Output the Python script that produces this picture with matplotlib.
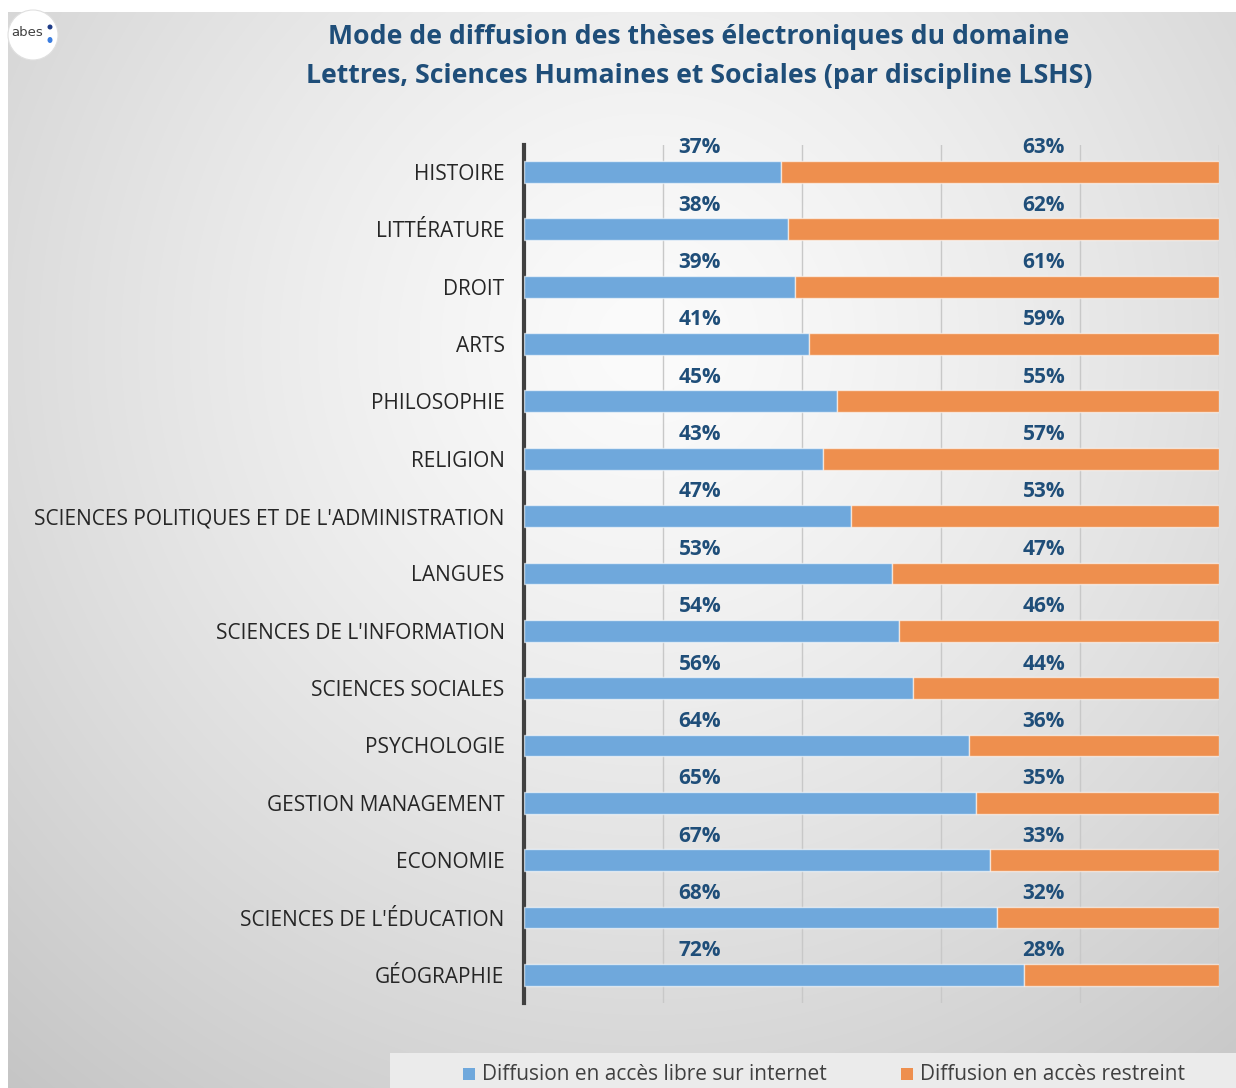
import numpy as np
import matplotlib
matplotlib.use("Agg")
import matplotlib.pyplot as plt
from matplotlib.patches import Circle, Rectangle, Ellipse

categories = ["HISTOIRE", "LITTÉRATURE", "DROIT", "ARTS", "PHILOSOPHIE", "RELIGION",
              "SCIENCES POLITIQUES ET DE L'ADMINISTRATION", "LANGUES",
              "SCIENCES DE L'INFORMATION", "SCIENCES SOCIALES", "PSYCHOLOGIE",
              "GESTION MANAGEMENT", "ECONOMIE", "SCIENCES DE L'ÉDUCATION", "GÉOGRAPHIE"]
libre = [37, 38, 39, 41, 45, 43, 47, 53, 54, 56, 64, 65, 67, 68, 72]
restreint = [63, 62, 61, 59, 55, 57, 53, 47, 46, 44, 36, 35, 33, 32, 28]
series_names = ["Diffusion en accès libre sur internet", "Diffusion en accès restreint"]
title_lines = ["Mode de diffusion des thèses électroniques du domaine",
               "Lettres, Sciences Humaines et Sociales (par discipline LSHS)"]

plt.rcParams['font.family'] = ['Open Sans', 'DejaVu Sans']

W, H = 1236, 1088
fig = plt.figure(figsize=(W / 100, H / 100), dpi=100)
fig.patch.set_facecolor("white")

# background radial gradient
bg = fig.add_axes([8 / W, 0, 1 - 8 / W, 1 - 12 / H])
yy, xx = np.mgrid[0:1076, 0:1228]
cx, cy = 640, 330
r = np.sqrt(((xx - cx) / 900.0) ** 2 + ((yy - cy) / 900.0) ** 2)
val = 0.985 - 0.19 * np.clip(r, 0, 1.2) ** 1.3
img = np.dstack([val, val, val])
bg.imshow(img, aspect="auto", extent=[0, 1, 0, 1], origin="upper")
bg.set_axis_off()

# legend band
bg.add_patch(Rectangle(((390 - 8) / 1228, 0), 1, (1088 - 1053) / 1076,
                       transform=bg.transAxes, facecolor="#ebebeb", edgecolor="none"))

ax = fig.add_axes([524 / W, 85 / H, 695 / W, (1003 - 145) / H])
ax.patch.set_alpha(0)
blue = "#6FA8DC"
orange = "#EE8F4E"
y = np.arange(len(categories))
lib = np.array(libre) / 100
res = np.array(restreint) / 100
ax.barh(y, lib, height=0.38, color=blue, edgecolor=(1, 1, 1, 0.6), linewidth=1, zorder=3)
ax.barh(y, res, left=lib, height=0.38, color=orange, edgecolor=(1, 1, 1, 0.6), linewidth=1, zorder=3)
for i in range(len(categories)):
    ax.text(0.253, i - 0.42, f"{libre[i]}%", ha="center", va="center", fontsize=15,
            fontweight="bold", color="#1F4E79", zorder=4)
    ax.text(0.748, i - 0.42, f"{restreint[i]}%", ha="center", va="center", fontsize=15,
            fontweight="bold", color="#1F4E79", zorder=4)

ax.set_xlim(0, 1)
ax.set_ylim(len(categories) - 1 + 0.49, -0.47)
ax.set_xticks(np.linspace(0, 1, 6))
ax.set_xticklabels([])
ax.grid(axis="x", color="#c8c8c8", linewidth=1, zorder=0)
ax.tick_params(axis="x", length=0)
ax.tick_params(axis="y", length=0, pad=14)
ax.set_yticks(y)
ax.set_yticklabels(categories, fontsize=15, color="#262626")
for s in ["top", "right", "bottom"]:
    ax.spines[s].set_visible(False)
ax.spines["left"].set_color("#404040")
ax.spines["left"].set_linewidth(3)

# title
fig.text(699 / W, 1 - 37 / H, title_lines[0], ha="center", va="center", fontsize=19.2,
         fontweight="bold", color="#1F4E79")
fig.text(699 / W, 1 - 76 / H, title_lines[1], ha="center", va="center", fontsize=19.2,
         fontweight="bold", color="#1F4E79")

# legend
fig.patches.append(Rectangle((463 / W, 1 - 1080 / H), 12 / W, 12 / H, transform=fig.transFigure,
                             facecolor=blue, edgecolor="none"))
fig.text(482 / W, 1 - 1074 / H, series_names[0], ha="left", va="center", fontsize=15, color="#404040")
fig.patches.append(Rectangle((901 / W, 1 - 1080 / H), 12 / W, 12 / H, transform=fig.transFigure,
                             facecolor=orange, edgecolor="none"))
fig.text(920 / W, 1 - 1074 / H, series_names[1], ha="left", va="center", fontsize=15, color="#404040")

# logo
fig.patches.append(Ellipse((33 / W, 1 - 35 / H), 50 / W, 50 / H, transform=fig.transFigure,
                           facecolor="white", edgecolor="#e0e0e0", linewidth=0.8))
fig.text(27 / W, 1 - 32 / H, "abes", ha="center", va="center", fontsize=9.5, color="#404040",
         family="DejaVu Sans")
fig.patches.append(Ellipse((50 / W, 1 - 27 / H), 5 / W, 5 / H, transform=fig.transFigure,
                           facecolor="#1f3c88", edgecolor="none"))
fig.patches.append(Ellipse((50 / W, 1 - 40 / H), 5 / W, 6 / H, transform=fig.transFigure,
                           facecolor="#3a7de0", edgecolor="none"))

fig.savefig("out.png", dpi=100)
